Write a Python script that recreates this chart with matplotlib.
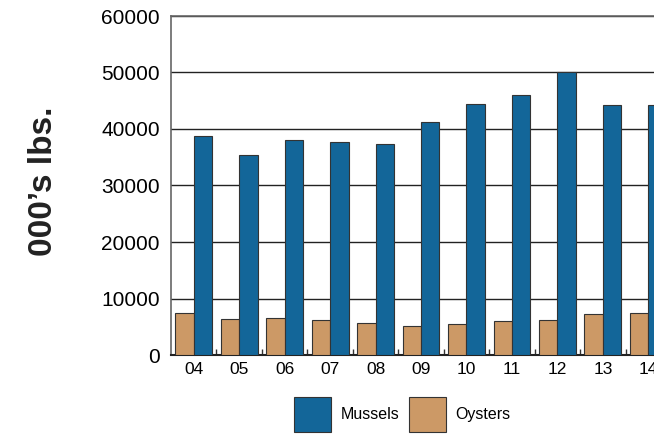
import matplotlib.pyplot as plt
import numpy as np

plt.rcParams['font.family'] = ['Liberation Sans', 'DejaVu Sans']

# years 2004-2014, last one is cut off by the figure edge
years = ['04', '05', '06', '07', '08', '09', '10', '11', '12', '13', '14']
mussels = [38800, 35400, 38000, 37700, 37400, 41200, 44400, 46100, 50000, 44200, 44200]
oysters = [7400, 6300, 6500, 6150, 5650, 5050, 5500, 5950, 6150, 7250, 7400]

mussel_col = '#136699'
oyster_col = '#cc9966'

fig = plt.figure(figsize=(6.54, 4.36), dpi=100)
# axes runs past the right edge on purpose (chart was cropped)
ax = fig.add_axes([171/654, 81/436, 500/654, 339/436])

x = np.arange(len(years))
w = 0.405
ax.bar(x - w/2, oysters, w, color=oyster_col, edgecolor='#333333', linewidth=0.8, zorder=3, label='Oysters')
ax.bar(x + w/2, mussels, w, color=mussel_col, edgecolor='#333333', linewidth=0.8, zorder=3, label='Mussels')

ax.set_ylim(0, 60000)
ax.set_xlim(-0.5, len(years) - 0.5)
ax.set_yticks(range(0, 60001, 10000))
ax.yaxis.grid(True, color='#222222', linewidth=1.0, zorder=0)
ax.tick_params(axis='y', length=0, labelsize=15, pad=8)
ax.set_xticks(x)
ax.set_xticklabels(years)
ax.tick_params(axis='x', which='major', length=0, labelsize=12.5, pad=5)
ax.set_xticks(x[:-1] + 0.5, minor=True)
ax.tick_params(axis='x', which='minor', direction='in', length=4, width=1, color='#333333')

for s in ['left', 'top', 'right']:
    ax.spines[s].set_color('#666666')
    ax.spines[s].set_linewidth(1.2)
ax.spines['bottom'].set_color('#222222')
ax.spines['bottom'].set_linewidth(1.5)

fig.text(0.066, 0.583, "000\u2019s lbs.", rotation=90, fontsize=24, fontweight='bold',
         va='center', ha='center', color='#222222')

handles, labels = ax.get_legend_handles_labels()
fig.legend(handles[::-1], labels[::-1], loc='center', bbox_to_anchor=(0.615, 0.05), ncol=2,
           frameon=False, fontsize=11.5, handlelength=2.3, handleheight=3.0,
           columnspacing=0.6, handletextpad=0.6)

fig.savefig('out.png', dpi=100)
